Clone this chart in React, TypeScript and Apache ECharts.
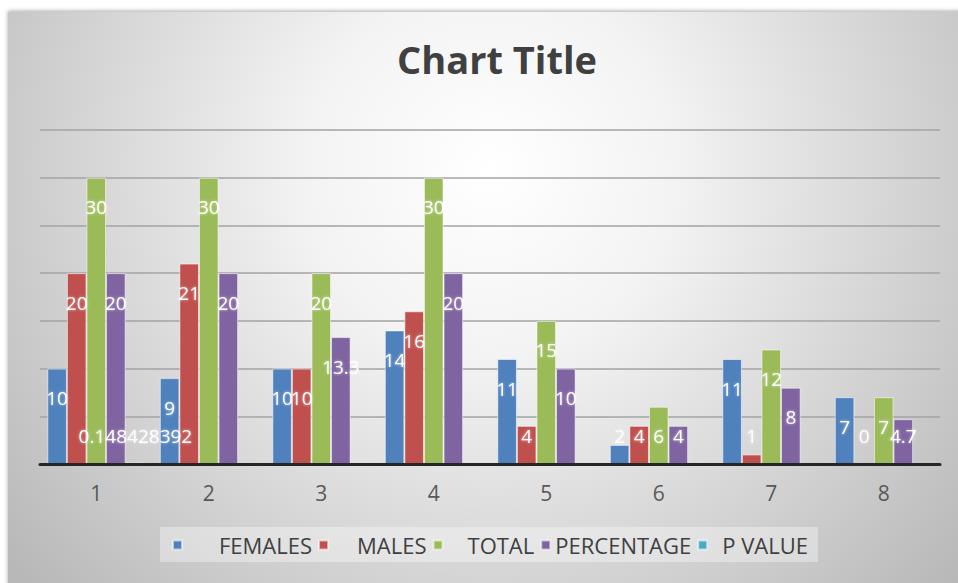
import React, { useEffect, useRef } from "react";
import * as echarts from "echarts";

const categories = ["1", "2", "3", "4", "5", "6", "7", "8"];
const seriesNames = ["FEMALES", "MALES", "TOTAL", "PERCENTAGE", "P VALUE"];
const females = [10, 9, 10, 14, 11, 2, 11, 7];
const males = [20, 21, 10, 16, 4, 4, 1, 0];
const total = [30, 30, 20, 30, 15, 6, 12, 7];
const percentage = [20, 20, 13.3, 20, 10, 4, 8, 4.7];
const pValue: (number | null)[] = [0.148428392, null, null, null, null, null, null, null];
const yTicks = { min: 0, max: 35, interval: 5 };

const colors = ["#4F81BD", "#C0504D", "#9BBB59", "#8064A2", "#4BACC6"];
const FONT = "'Open Sans', 'Noto Sans', sans-serif";

const labelBase = {
  show: true,
  color: "#ffffff",
  fontFamily: FONT,
  fontSize: 19,
  textShadowColor: "rgba(255,255,255,0.6)",
  textShadowBlur: 3,
};

function buildData(values: (number | null)[]) {
  return values.map((v) => {
    if (v === null) return { value: null, label: { show: false } };
    const top = v >= 6.5;
    return {
      value: v,
      label: top
        ? { ...labelBase, position: "insideTop", distance: 20 }
        : { ...labelBase, position: "insideBottom", distance: 19 },
    };
  });
}

const legendPads = [
  [0, 0, 0, 32],
  [0, 0, 0, 24],
  [0, 0, 0, 20],
  [0, 0, 0, 0],
  [0, 0, 0, 10],
];

export default function App() {
  const ref = useRef<HTMLDivElement>(null);
  useEffect(() => {
    if (!ref.current) return;
    const chart = echarts.init(ref.current, null, { renderer: "svg" });
    const allValues = [females, males, total, percentage, pValue];
    const rich: Record<string, any> = {};
    seriesNames.forEach((_, i) => {
      rich["p" + i] = {
        padding: legendPads[i],
        fontSize: 22,
        fontFamily: FONT,
        color: "#404040",
      };
    });
    chart.setOption({
      animation: false,
      backgroundColor: "#ffffff",
      graphic: [
        {
          type: "rect",
          z: -100,
          silent: true,
          shape: { x: 8, y: 12, width: 975, height: 590 },
          style: {
            fill: new echarts.graphic.RadialGradient(490, 170, 620, [
              { offset: 0, color: "#ffffff" },
              { offset: 0.3, color: "#f3f3f3" },
              { offset: 1, color: "#b8b8b8" },
            ], true),
            shadowBlur: 4,
            shadowColor: "rgba(0,0,0,0.35)",
            shadowOffsetY: -1,
          },
        },
      ],
      title: {
        text: "Chart Title",
        left: 492,
        textAlign: "center",
        top: 35,
        textStyle: {
          fontFamily: FONT,
          fontSize: 38,
          fontWeight: "bold",
          color: "#404040",
        },
      },
      legend: {
        left: 160,
        top: 527,
        padding: [7, 10, 6, 12],
        backgroundColor: "rgba(255,255,255,0.35)",
        itemWidth: 9,
        itemHeight: 9,
        itemGap: 6,
        icon: "rect",
        data: seriesNames,
        formatter: (name: string) => {
          const i = seriesNames.indexOf(name);
          return "{p" + i + "|" + name + "}";
        },
        textStyle: {
          fontFamily: FONT,
          fontSize: 22,
          color: "#404040",
          rich,
        },
      },
      grid: { left: 40, right: 18, top: 130, bottom: 119, containLabel: false },
      xAxis: {
        type: "category",
        data: categories,
        axisTick: { show: false },
        axisLine: { show: true, lineStyle: { color: "#262626", width: 3 } },
        axisLabel: {
          color: "#595959",
          fontFamily: FONT,
          fontSize: 21,
          margin: 18,
        },
        z: 5,
      },
      yAxis: {
        type: "value",
        min: yTicks.min,
        max: yTicks.max,
        interval: yTicks.interval,
        axisLabel: { show: false },
        axisLine: { show: false },
        axisTick: { show: false },
        splitLine: { show: true, lineStyle: { color: "#a3a3a3", width: 1.5 } },
      },
      series: seriesNames.map((name, i) => ({
        name,
        type: "bar",
        barGap: "0%",
        barCategoryGap: "13%",
        itemStyle: {
          color: colors[i],
          borderColor: "rgba(255,255,255,0.55)",
          borderWidth: 1,
        },
        label: { ...labelBase },
        labelLayout: { hideOverlap: false },
        data: buildData(allValues[i]),
      })),
    });
    return () => chart.dispose();
  }, []);
  return (
    <div
      ref={ref}
      style={{ position: "fixed", left: 0, top: 0, width: 958, height: 583 }}
    />
  );
}
